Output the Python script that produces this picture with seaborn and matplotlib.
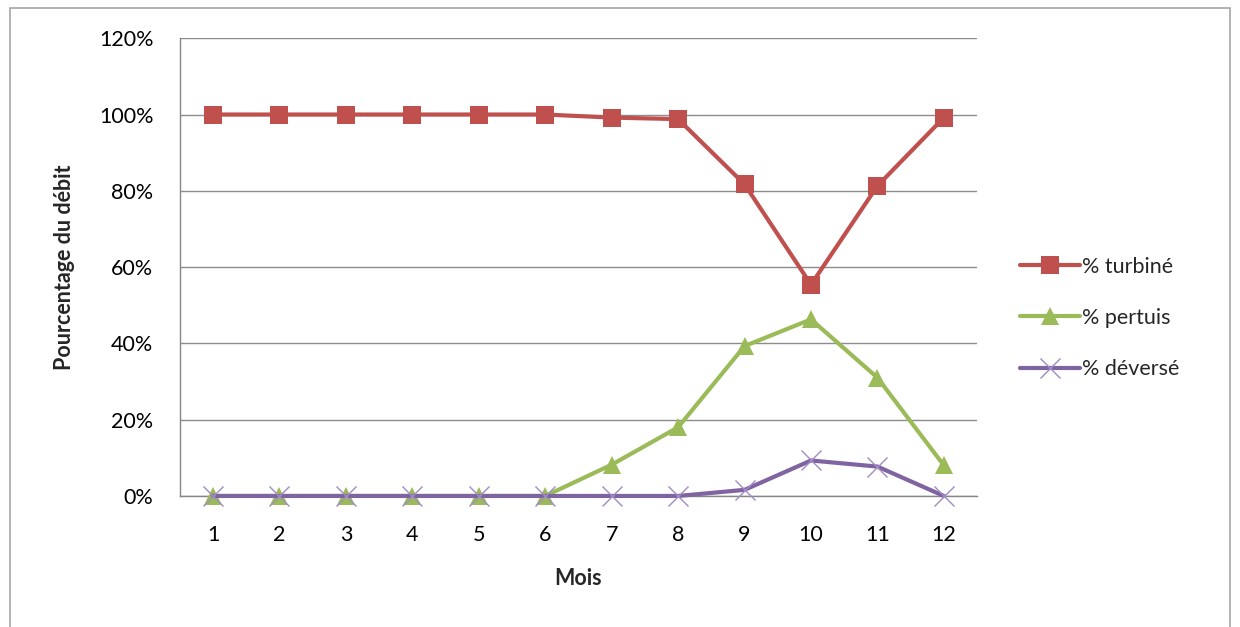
import pandas as pd
import seaborn as sns
import matplotlib.pyplot as plt
from matplotlib.ticker import PercentFormatter, FixedLocator

# Data (percent of flow per month)
mois = [1, 2, 3, 4, 5, 6, 7, 8, 9, 10, 11, 12]
turbine = [100, 100, 100, 100, 100, 100, 99.2, 98.8, 81.7, 55.4, 81.3, 99.2]
pertuis = [0, 0, 0, 0, 0, 0, 8.2, 18.0, 39.3, 46.3, 31.0, 8.0]
deverse = [0, 0, 0, 0, 0, 0, 0, 0, 1.6, 9.3, 7.7, 0]
series = ["% turbiné", "% pertuis", "% déversé"]

df = pd.DataFrame({"Mois": mois, series[0]: turbine, series[1]: pertuis, series[2]: deverse})
df["pos"] = df["Mois"] - 1

sns.set_theme(style="white")
plt.rcParams["font.family"] = ["Lato", "DejaVu Sans"]

fig = plt.figure(figsize=(12.4, 6.27), dpi=100)
ax = fig.add_axes([0.145, 0.209, 0.643, 0.730])
fig.patches.append(plt.Rectangle((0.008, -0.01), 0.984, 0.998, transform=fig.transFigure,
                                 fill=False, edgecolor="#a6a6a6", linewidth=1.2))

palette = {"% turbiné": "#C0504D", "% pertuis": "#9BBB59", "% déversé": "#8064A2"}
markers = {"% turbiné": "s", "% pertuis": "^", "% déversé": "x"}


def style_kw(name):
    kw = dict(color=palette[name], marker=markers[name], linewidth=3.0,
              markersize=13, markeredgewidth=0)
    if name == "% déversé":
        kw.update(markeredgewidth=1.0, markersize=15, markeredgecolor="#a08bc4")
    return kw


for name in series:
    sns.lineplot(data=df, x="pos", y=name, ax=ax, zorder=3, clip_on=False, **style_kw(name))

ax.set_xlim(-0.5, 11.5)
ax.set_ylim(0, 120)
ax.set_yticks(range(0, 121, 20))
ax.yaxis.set_major_formatter(PercentFormatter(decimals=0))
ax.set_xticks(range(12))
ax.set_xticklabels([str(m) for m in mois])
ax.xaxis.set_minor_locator(FixedLocator([i - 0.5 for i in range(13)]))
ax.tick_params(axis="x", which="major", length=0, pad=21, labelsize=15.5, colors="black")
ax.tick_params(axis="x", which="minor", length=7, width=1, color="#868686", direction="out")
ax.tick_params(axis="y", which="major", length=7, width=1, color="#868686", direction="out",
               labelsize=15.5, pad=12, labelcolor="black")

ax.grid(axis="y", color="#8c8c8c", linewidth=1)
ax.set_axisbelow(True)
for s in ["top", "right"]:
    ax.spines[s].set_visible(False)
for s in ["left", "bottom"]:
    ax.spines[s].set_color("#868686")
    ax.spines[s].set_linewidth(1)

ax.set_xlabel("Mois", fontsize=15.5, fontweight="bold")
ax.set_ylabel("Pourcentage du débit", fontsize=15.5, fontweight="bold")
ax.xaxis.set_label_coords(0.5, -0.157)
ax.yaxis.set_label_coords(-0.131, 0.5)

# legend
handles = [plt.Line2D([], [], **style_kw(name)) for name in series]
fig.legend(handles, series, loc="center left", bbox_to_anchor=(0.8226, 0.493),
           frameon=False, fontsize=15.5, handlelength=2.8, labelspacing=1.45,
           handletextpad=0.1, borderpad=0, borderaxespad=0)

plt.savefig("out.png", dpi=100)
plt.close()
